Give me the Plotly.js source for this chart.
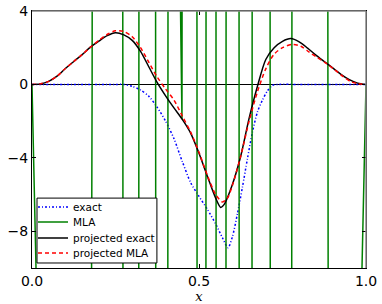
<!DOCTYPE html>
<html>
<head>
<meta charset="utf-8">
<script src="https://cdn.plot.ly/plotly-3.0.1.min.js"></script>
<style>html,body{margin:0;padding:0;background:#fff;}#chart{width:382px;height:304px;}</style>
</head>
<body>
<div id="chart"></div>
<script>
// exact
const exactX = [0, 0.1, 0.2, 0.25, 0.275, 0.30, 0.325, 0.35, 0.375, 0.40, 0.425, 0.45, 0.475, 0.50, 0.525, 0.55, 0.57, 0.587, 0.60, 0.615, 0.63, 0.645, 0.66, 0.675, 0.69, 0.705, 0.72, 0.74, 0.8, 0.9, 1.0];
const exactY = [0, 0, 0, 0, 0, -0.1, -0.3, -0.65, -1.25, -2.0, -2.95, -4.2, -5.35, -6.1, -6.8, -7.6, -8.35, -8.9, -8.3, -7.05, -5.6, -4.05, -2.6, -1.5, -0.85, -0.35, -0.05, 0, 0, 0, 0];
// MLA (wildly oscillating)
const mlaX = [0, 0.03, 0.10, 0.18, 0.225, 0.272, 0.296, 0.320, 0.345, 0.371, 0.389, 0.407, 0.425, 0.433, 0.449, 0.465, 0.475, 0.494, 0.507, 0.521, 0.536, 0.551, 0.566, 0.581, 0.60, 0.620, 0.64, 0.659, 0.686, 0.713, 0.745, 0.778, 0.832, 0.886, 0.94, 0.97, 1.0];
const mlaY = [0, -25, -500, 0, 900, 0, -700, 0, 800, 0, -600, 0, 500, 20, -1.9, 20, 500, 0, -700, 0, 800, 0, -800, 0, 900, 0, -800, 0, 900, 0, -900, 0, 1000, 0, -800, -25, 0];
// projected exact
const projExactX = [0, 0.025, 0.05, 0.075, 0.10, 0.125, 0.15, 0.175, 0.20, 0.225, 0.25, 0.275, 0.30, 0.325, 0.35, 0.375, 0.40, 0.425, 0.45, 0.475, 0.50, 0.525, 0.55, 0.565, 0.575, 0.60, 0.625, 0.65, 0.675, 0.70, 0.725, 0.75, 0.775, 0.80, 0.825, 0.85, 0.875, 0.90, 0.925, 0.95, 0.975, 1.0];
const projExactY = [0, 0.03, 0.17, 0.45, 0.87, 1.25, 1.62, 2.03, 2.36, 2.66, 2.82, 2.7, 2.4, 1.8, 0.95, 0.1, -0.62, -1.28, -1.9, -2.65, -3.75, -5.0, -6.2, -6.7, -6.55, -5.45, -3.9, -1.85, -0.1, 1.36, 2.0, 2.35, 2.5, 2.32, 1.98, 1.6, 1.25, 0.9, 0.55, 0.26, 0.07, 0];
// projected MLA
const projMlaX = [0, 0.025, 0.05, 0.075, 0.10, 0.125, 0.15, 0.175, 0.20, 0.225, 0.25, 0.275, 0.30, 0.325, 0.35, 0.375, 0.40, 0.425, 0.45, 0.475, 0.50, 0.525, 0.55, 0.57, 0.585, 0.60, 0.625, 0.65, 0.675, 0.70, 0.725, 0.75, 0.78, 0.805, 0.83, 0.855, 0.88, 0.905, 0.93, 0.955, 0.975, 1.0];
const projMlaY = [0, 0.03, 0.17, 0.45, 0.87, 1.25, 1.62, 2.03, 2.4, 2.72, 2.92, 2.88, 2.6, 2.0, 1.2, 0.4, -0.25, -0.85, -1.72, -2.6, -3.7, -4.95, -6.0, -6.4, -6.2, -5.5, -3.9, -2.0, -0.4, 0.85, 1.65, 2.0, 2.18, 2.08, 1.76, 1.45, 1.16, 0.82, 0.45, 0.15, 0.05, 0];

const xTickVals = [0, 0.5, 1.0];
const xTickText = ['0.0', '0.5', '1.0'];
const yTickVals = [4, 0, -4, -8];

const traces = [
  {x: exactX, y: exactY, name: 'exact', mode: 'lines', legend: 'legend',
   line: {color: '#0000ff', width: 1.5, dash: '2px,2px,1px,2px', shape: 'spline', smoothing: 0.7}},
  {x: mlaX, y: mlaY, name: 'MLA', mode: 'lines', legend: 'legend2',
   line: {color: '#008000', width: 1.5}},
  {x: projExactX, y: projExactY, name: 'projected exact', mode: 'lines', legend: 'legend3',
   line: {color: '#000000', width: 1.5, shape: 'spline', smoothing: 0.8}},
  {x: projMlaX, y: projMlaY, name: 'projected MLA', mode: 'lines', legend: 'legend4',
   line: {color: '#ff0000', width: 1.5, dash: '4px,3px', shape: 'spline', smoothing: 0.8}}
];

function leg(y) {
  return {x: 0.003, y: y, xanchor: 'left', yanchor: 'middle',
          bgcolor: 'rgba(0,0,0,0)', borderwidth: 0,
          font: {family: 'DejaVu Sans', size: 10.5, color: '#000'}};
}

const layout = {
  width: 382, height: 304,
  margin: {l: 32, r: 16, t: 11, b: 36},
  paper_bgcolor: '#fff', plot_bgcolor: '#fff',
  font: {family: 'DejaVu Sans', size: 14, color: '#000'},
  showlegend: true,
  legend: leg(0.237),
  legend2: leg(0.179),
  legend3: leg(0.117),
  legend4: leg(0.058),
  xaxis: {range: [0, 1], tickvals: xTickVals, ticktext: xTickText,
          ticks: 'inside', ticklen: 4, tickcolor: '#000', showline: true, linecolor: '#000', linewidth: 1,
          mirror: 'ticks', showgrid: false, zeroline: false,
          title: {text: '<i>x</i>', font: {family: 'DejaVu Serif', size: 13}, standoff: 2}},
  yaxis: {range: [-10, 4], tickvals: yTickVals,
          ticks: 'inside', ticklen: 4, tickcolor: '#000', showline: true, linecolor: '#000', linewidth: 1,
          mirror: 'ticks', showgrid: false, zeroline: true, zerolinecolor: '#000', zerolinewidth: 1},
  shapes: [
    {type: 'line', xref: 'paper', yref: 'paper', x0: 0, x1: 1, y0: 1, y1: 1, line: {color: '#888', width: 1.5}, layer: 'above'},
    {type: 'line', xref: 'paper', yref: 'paper', x0: 1, x1: 1, y0: 0, y1: 1, line: {color: '#888', width: 1.5}, layer: 'above'},
    {type: 'rect', xref: 'paper', yref: 'paper', x0: 0.015, x1: 0.374, y0: 0.0195, y1: 0.272,
     fillcolor: '#fff', line: {color: '#000', width: 1}, layer: 'above'}
  ]
};

Plotly.newPlot('chart', traces, layout, {staticPlot: true, displayModeBar: false});
</script>
</body>
</html>
